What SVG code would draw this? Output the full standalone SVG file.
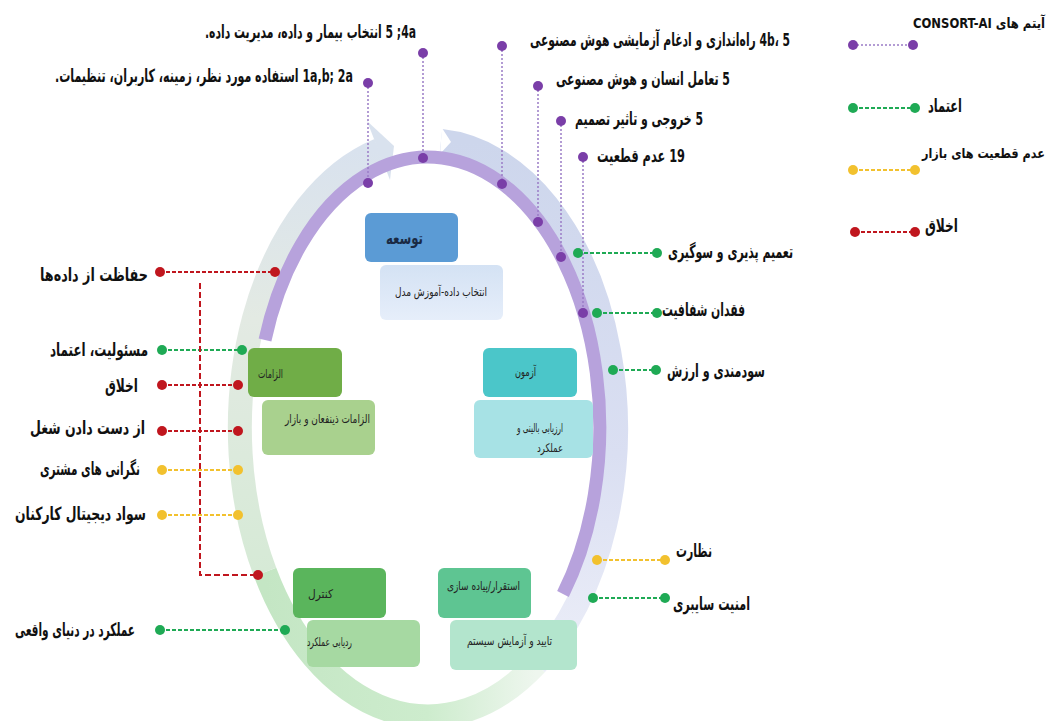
<svg xmlns="http://www.w3.org/2000/svg" width="1053" height="721" viewBox="0 0 1053 721">
<style>
.lbl{font-family:"DejaVu Sans Condensed","DejaVu Sans",sans-serif;font-weight:bold;font-size:18px;fill:#111;direction:rtl;text-anchor:start}
.lg{font-family:"DejaVu Sans Condensed","DejaVu Sans",sans-serif;font-weight:bold;font-size:14px;fill:#111;text-anchor:end}
.box{font-family:"DejaVu Sans Condensed","DejaVu Sans",sans-serif;font-size:12px;fill:#222;text-anchor:start;direction:rtl}
.pl{stroke:#9a7cc6;stroke-width:1.5;stroke-dasharray:2 2;fill:none}
.gl{stroke:#1faa55;stroke-width:2;stroke-dasharray:4 2;fill:none}
.rl{stroke:#c0161e;stroke-width:2;stroke-dasharray:4 2;fill:none}
.yl{stroke:#f2c12e;stroke-width:2;stroke-dasharray:4 2;fill:none}
.pd{fill:#7a3ea8}
.gd{fill:#1faa55}
.rd{fill:#c0161e}
.yd{fill:#f2c12e}
</style>
<defs>
<linearGradient id="gBot" x1="0" y1="0" x2="1" y2="0">
<stop offset="0" stop-color="#c4e6c4"/>
<stop offset="0.6" stop-color="#cdeccd"/>
<stop offset="1" stop-color="#eef6ee"/>
</linearGradient>
<linearGradient id="gRight" x1="0" y1="0" x2="0" y2="1">
<stop offset="0" stop-color="#cdd6ec"/>
<stop offset="0.6" stop-color="#dadff2"/>
<stop offset="1" stop-color="#eceef8"/>
</linearGradient>
<linearGradient id="gLeft" x1="0" y1="0" x2="0" y2="1">
<stop offset="0" stop-color="#d9e2ee"/>
<stop offset="0.4" stop-color="#e3eae3"/>
<stop offset="1" stop-color="#d6ead6"/>
</linearGradient>
<linearGradient id="gBlueBox" x1="0" y1="0" x2="0" y2="1">
<stop offset="0" stop-color="#d4e2f4"/>
<stop offset="1" stop-color="#e6eefa"/>
</linearGradient>
</defs>
<rect width="1053" height="721" fill="#ffffff"/>

<g id="ring">
<path d="M 441 141 A 188 288 0 0 1 536 664" fill="none" stroke="url(#gRight)" stroke-width="24"/>
<path d="M 536 664 A 188 288 0 0 1 265 572" fill="none" stroke="url(#gBot)" stroke-width="24"/>
<path d="M 265 572 A 188 288 0 0 1 379 150" fill="none" stroke="url(#gLeft)" stroke-width="24"/>
<polygon points="390,180 367,121 394,146" fill="#d9e2ee"/>
<polygon points="440,154 442,128 451,142" fill="#ffffff"/>
<path d="M 265 340 A 172 270 0 1 1 563 594" fill="none" stroke="#b7a2dc" stroke-width="13"/>
</g>

<g id="connectors">
<line class="pl" x1="423" y1="53" x2="423" y2="158"/>
<line class="pl" x1="368" y1="83" x2="368" y2="183"/>
<line class="pl" x1="502" y1="46" x2="502" y2="184"/>
<line class="pl" x1="538" y1="86" x2="538" y2="222"/>
<line class="pl" x1="561" y1="121" x2="561" y2="257"/>
<line class="pl" x1="583" y1="157" x2="583" y2="313"/>
<line class="gl" x1="578" y1="253" x2="657" y2="253"/>
<line class="gl" x1="597" y1="313" x2="657" y2="313"/>
<line class="gl" x1="613" y1="370" x2="656" y2="370"/>
<line class="yl" x1="597" y1="560" x2="665" y2="560"/>
<line class="gl" x1="593" y1="598" x2="665" y2="598"/>
<line class="rl" x1="160" y1="272" x2="275" y2="272"/>
<line class="gl" x1="162" y1="350" x2="242" y2="350"/>
<line class="rl" x1="162" y1="385" x2="238" y2="385"/>
<line class="rl" x1="162" y1="431" x2="238" y2="431"/>
<line class="yl" x1="162" y1="470" x2="238" y2="470"/>
<line class="yl" x1="162" y1="515" x2="238" y2="515"/>
<path class="rl" d="M 200 283 L 200 575 L 258 575" style="stroke-dasharray:6 3"/>
<line class="gl" x1="160" y1="630" x2="285" y2="630"/>
<line class="pl" x1="853" y1="45" x2="913" y2="45"/>
<line class="gl" x1="853" y1="108" x2="915" y2="108"/>
<line class="yl" x1="853" y1="170" x2="915" y2="170"/>
<line class="rl" x1="855" y1="232" x2="915" y2="232"/>
</g>

<g id="dots">
<circle class="pd" cx="423" cy="53" r="5"/><circle class="pd" cx="423" cy="158" r="5"/>
<circle class="pd" cx="368" cy="83" r="5"/><circle class="pd" cx="368" cy="183" r="5"/>
<circle class="pd" cx="502" cy="46" r="5"/><circle class="pd" cx="502" cy="184" r="5"/>
<circle class="pd" cx="538" cy="86" r="5"/><circle class="pd" cx="538" cy="222" r="5"/>
<circle class="pd" cx="561" cy="121" r="5"/><circle class="pd" cx="561" cy="257" r="5"/>
<circle class="pd" cx="583" cy="157" r="5"/><circle class="pd" cx="583" cy="313" r="5"/>
<circle class="gd" cx="578" cy="253" r="5"/><circle class="gd" cx="657" cy="253" r="5"/>
<circle class="gd" cx="597" cy="313" r="5"/><circle class="gd" cx="657" cy="313" r="5"/>
<circle class="gd" cx="613" cy="370" r="5"/><circle class="gd" cx="656" cy="370" r="5"/>
<circle class="yd" cx="597" cy="560" r="5"/><circle class="yd" cx="665" cy="560" r="5"/>
<circle class="gd" cx="593" cy="598" r="5"/><circle class="gd" cx="665" cy="598" r="5"/>
<circle class="rd" cx="160" cy="272" r="5"/><circle class="rd" cx="275" cy="272" r="5"/>
<circle class="gd" cx="162" cy="350" r="5"/><circle class="gd" cx="242" cy="350" r="5"/>
<circle class="rd" cx="162" cy="385" r="5"/><circle class="rd" cx="238" cy="385" r="5"/>
<circle class="rd" cx="162" cy="431" r="5"/><circle class="rd" cx="238" cy="431" r="5"/>
<circle class="yd" cx="162" cy="470" r="5"/><circle class="yd" cx="238" cy="470" r="5"/>
<circle class="yd" cx="162" cy="515" r="5"/><circle class="yd" cx="238" cy="515" r="5"/>
<circle class="rd" cx="258" cy="575" r="5"/>
<circle class="gd" cx="160" cy="630" r="5"/><circle class="gd" cx="285" cy="630" r="5"/>
<circle class="pd" cx="853" cy="45" r="5"/><circle class="pd" cx="913" cy="45" r="5"/>
<circle class="gd" cx="853" cy="108" r="5"/><circle class="gd" cx="915" cy="108" r="5"/>
<circle class="yd" cx="853" cy="170" r="5"/><circle class="yd" cx="915" cy="170" r="5"/>
<circle class="rd" cx="855" cy="232" r="5"/><circle class="rd" cx="915" cy="232" r="5"/>
</g>

<g id="n-develop"><rect x="365" y="213" width="93" height="49" rx="6" fill="#5b9bd5"/><text class="box" x="423" y="244" textLength="37" lengthAdjust="spacingAndGlyphs" style="font-size:17px;font-weight:bold;fill:#1a2a44">توسعه</text></g>
<g id="n-develop-sub"><rect x="380" y="265" width="123" height="55" rx="6" fill="url(#gBlueBox)"/><text class="box" x="487" y="296" textLength="92" lengthAdjust="spacingAndGlyphs">انتخاب داده-آموزش مدل</text></g>
<g id="n-req"><rect x="248" y="348" width="94" height="49" rx="6" fill="#70ad47"/><text class="box" x="283" y="378" textLength="25" lengthAdjust="spacingAndGlyphs">الزامات</text></g>
<g id="n-req-sub"><rect x="262" y="400" width="113" height="55" rx="6" fill="#a9d18e"/><text class="box" x="370" y="423" textLength="85" lengthAdjust="spacingAndGlyphs">الزامات ذینفعان و بازار</text></g>
<g id="n-test"><rect x="483" y="348" width="94" height="49" rx="6" fill="#4bc6c9"/><text class="box" x="536" y="376" textLength="21" lengthAdjust="spacingAndGlyphs">آزمون</text></g>
<g id="n-test-sub"><rect x="474" y="400" width="119" height="58" rx="6" fill="#a7e2e5"/><text class="box" x="563" y="432" textLength="46" lengthAdjust="spacingAndGlyphs">ارزیابی بالینی و</text><text class="box" x="563" y="452" textLength="26" lengthAdjust="spacingAndGlyphs">عملکرد</text></g>
<g id="n-control"><rect x="293" y="568" width="93" height="50" rx="6" fill="#5ab55c"/><text class="box" x="333" y="598" textLength="25" lengthAdjust="spacingAndGlyphs">کنترل</text></g>
<g id="n-control-sub"><rect x="307" y="620" width="113" height="47" rx="6" fill="#a6d9a2"/><text class="box" x="352" y="646" textLength="45" lengthAdjust="spacingAndGlyphs">ردیابی عملکرد</text></g>
<g id="n-deploy"><rect x="438" y="568" width="93" height="50" rx="6" fill="#5ec592"/><text class="box" x="520" y="590" textLength="73" lengthAdjust="spacingAndGlyphs">استقرار/پیاده سازی</text></g>
<g id="n-deploy-sub"><rect x="450" y="620" width="127" height="50" rx="6" fill="#b3e5cd"/><text class="box" x="552" y="645" textLength="85" lengthAdjust="spacingAndGlyphs">تایید و آزمایش سیستم</text></g>

<g id="labels">
<text class="lbl" x="416" y="38" textLength="211" lengthAdjust="spacingAndGlyphs">4a&#x200F;; 5 انتخاب بیمار و داده، مدیریت داده.</text>
<text class="lbl" x="353" y="82" textLength="298" lengthAdjust="spacingAndGlyphs">1a,b; 2a استفاده مورد نظر، زمینه، کاربران، تنظیمات.</text>
<text class="lbl" x="790" y="46" textLength="260" lengthAdjust="spacingAndGlyphs">4b، 5 راه‌اندازی و ادغام آزمایشی هوش مصنوعی</text>
<text class="lbl" x="730" y="85" textLength="174" lengthAdjust="spacingAndGlyphs">5 تعامل انسان و هوش مصنوعی</text>
<text class="lbl" x="703" y="125" textLength="128" lengthAdjust="spacingAndGlyphs">5 خروجی و تاثیر تصمیم</text>
<text class="lbl" x="685" y="162" textLength="88" lengthAdjust="spacingAndGlyphs">19 عدم قطعیت</text>
<text class="lbl" x="793" y="258" textLength="125" lengthAdjust="spacingAndGlyphs">تعمیم پذیری و سوگیری</text>
<text class="lbl" x="745" y="316" textLength="83" lengthAdjust="spacingAndGlyphs">فقدان شفافیت</text>
<text class="lbl" x="765" y="377" textLength="98" lengthAdjust="spacingAndGlyphs">سودمندی و ارزش</text>
<text class="lbl" x="712" y="557" textLength="36" lengthAdjust="spacingAndGlyphs">نظارت</text>
<text class="lbl" x="750" y="610" textLength="77" lengthAdjust="spacingAndGlyphs">امنیت سایبری</text>
<text class="lbl" x="148" y="281" textLength="108" lengthAdjust="spacingAndGlyphs">حفاظت از داده‌ها</text>
<text class="lbl" x="148" y="356" textLength="98" lengthAdjust="spacingAndGlyphs">مسئولیت، اعتماد</text>
<text class="lbl" x="138" y="392" textLength="33" lengthAdjust="spacingAndGlyphs">اخلاق</text>
<text class="lbl" x="145" y="434" textLength="115" lengthAdjust="spacingAndGlyphs">از دست دادن شغل</text>
<text class="lbl" x="140" y="475" textLength="100" lengthAdjust="spacingAndGlyphs">نگرانی های مشتری</text>
<text class="lbl" x="146" y="520" textLength="131" lengthAdjust="spacingAndGlyphs">سواد دیجیتال کارکنان</text>
<text class="lbl" x="135" y="636" textLength="120" lengthAdjust="spacingAndGlyphs">عملکرد در دنیای واقعی</text>
</g>

<g id="legend">
<text class="lg" x="1045" y="28" textLength="132" lengthAdjust="spacingAndGlyphs">&#x202B;آیتم های CONSORT-AI&#x202C;</text>
<text class="lbl" x="962" y="112" textLength="34" lengthAdjust="spacingAndGlyphs">اعتماد</text>
<text class="lg" x="1045" y="158" textLength="123" lengthAdjust="spacingAndGlyphs" style="font-size:13.5px">عدم قطعیت های بازار</text>
<text class="lbl" x="958" y="232" textLength="33" lengthAdjust="spacingAndGlyphs">اخلاق</text>
</g>
</svg>
